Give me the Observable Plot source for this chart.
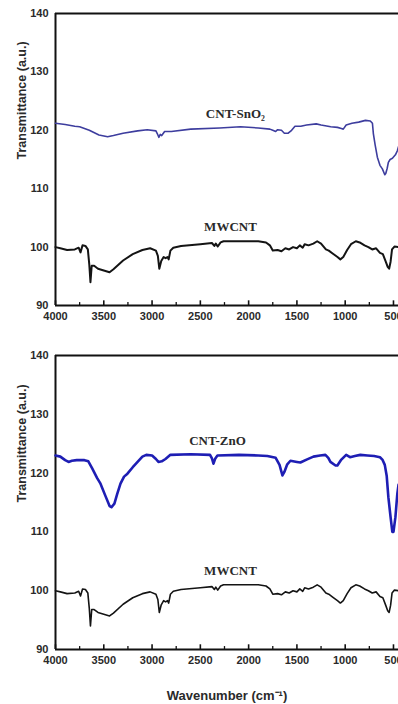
<!DOCTYPE html>
<html>
<head>
<meta charset="utf-8">
<script src="https://cdn.jsdelivr.net/npm/d3@7"></script>
<script src="https://cdn.jsdelivr.net/npm/@observablehq/plot@0.6"></script>
<style>
  html, body { margin: 0; padding: 0; background: #fff; overflow: hidden; }
  #chart svg { display: block; }
</style>
</head>
<body>
<div id="chart"></div>
<script>
// ---- data ----
const mwcntWn = [4000,3950,3880,3800,3760,3741,3720,3690,3665,3650,3638,3625,3600,3560,3500,3440,3400,3300,3200,3100,3020,2960,2940,2925,2905,2880,2860,2840,2828,2810,2780,2700,2500,2380,2355,2340,2320,2290,2260,2100,1900,1820,1780,1750,1700,1660,1620,1580,1540,1500,1470,1440,1420,1380,1330,1290,1250,1200,1170,1130,1080,1050,1020,980,940,890,850,800,760,720,680,640,610,580,560,545,530,515,490,450];
const mwcntT  = [100.0,99.8,99.5,99.6,99.9,99.1,100.3,100.2,99.6,97.0,94.0,96.8,96.8,96.3,96.0,95.7,96.2,97.7,98.8,99.5,99.8,99.4,98.5,96.3,97.6,98.3,98.1,98.3,97.9,99.4,99.9,100.2,100.5,100.7,100.2,100.6,100.1,100.8,101.0,101.0,101.0,100.8,100.3,99.4,99.5,99.3,99.8,99.6,100.0,99.8,100.3,99.9,100.5,100.3,100.6,101.0,100.6,99.6,99.4,98.9,98.3,97.9,98.3,99.5,100.5,101.0,100.8,100.3,100.0,99.6,99.8,99.0,98.8,97.5,96.6,96.3,97.5,99.6,100.1,100.0];

const sno2Wn = [4000,3900,3800,3750,3650,3550,3460,3400,3300,3150,3050,2960,2945,2930,2915,2900,2870,2800,2600,2300,2085,1900,1780,1750,1720,1700,1660,1630,1590,1555,1520,1460,1400,1300,1250,1150,1080,1040,1020,990,930,860,790,740,718,708,690,667,640,615,590,580,565,553,535,511,480,460,448];
const sno2T  = [121.2,121.0,120.7,120.6,120.0,119.2,118.9,119.1,119.5,119.9,120.1,119.9,119.4,118.8,119.3,119.1,119.8,119.8,120.2,120.4,120.6,120.4,120.2,120.0,119.8,120.1,120.0,119.5,119.5,120.0,120.7,120.7,120.9,121.1,120.9,120.6,120.5,120.3,120.2,120.9,121.2,121.4,121.7,121.6,121.2,119.4,117.5,115.4,114.0,113.4,112.4,112.6,113.5,114.5,115.0,115.2,115.8,116.5,117.2];

const znoWn = [4000,3950,3900,3865,3830,3780,3700,3660,3620,3570,3534,3480,3440,3420,3390,3360,3327,3290,3255,3200,3150,3100,3060,3000,2960,2934,2900,2861,2810,2600,2400,2380,2364,2345,2323,2100,1900,1806,1720,1680,1650,1630,1600,1567,1500,1464,1400,1329,1260,1205,1175,1153,1100,1081,1040,990,950,900,843,770,700,640,615,590,570,553,530,512,500,480,460,448];
const znoT  = [123.0,122.8,122.2,121.9,122.1,122.2,122.2,122.0,120.8,119.2,118.2,116.0,114.4,114.2,114.8,116.5,118.2,119.4,119.9,121.0,121.9,122.8,123.1,123.0,122.4,121.9,122.0,122.4,123.1,123.2,123.1,122.5,121.6,122.5,123.0,123.1,123.0,122.9,122.6,121.4,119.6,120.2,121.5,122.1,121.9,121.8,122.3,122.8,123.0,123.1,122.6,121.9,121.3,121.3,122.3,123.1,122.7,122.9,123.1,123.0,122.9,122.7,122.3,121.4,119.5,115.9,112.5,110.0,110.0,112.5,116.5,118.0];

const xMajor = [4000,3500,3000,2500,2000,1500,1000,500];
const xMinor = [3750,3250,2750,2250,1750,1250,750];
const yTicks = [90,100,110,120,130,140];
const xDomain = [4000, 448];
const yDomain = [90, 140];

const yTitle = "Transmittance (a.u.)";
const xTitle = "Wavenumber (cm\u207B\u00B9)";

const panels = [
  {name: "CNT-SnO\u2082", wn: sno2Wn, t: sno2T, color: "#3d3d9e", width: 1.6,
   lab: {x: 2137, y: 122.9}, mw: {x: 2188, y: 103.4, w: 2.0},
   height: 330, mt: 13, mb: 25, xlabel: false},
  {name: "CNT-ZnO", wn: znoWn, t: znoT, color: "#1e1eb4", width: 2.6,
   lab: {x: 2323, y: 125.5}, mw: {x: 2188, y: 103.4, w: 1.6},
   height: 374, mt: 25, mb: 55, xlabel: true}
];

const toRows = (xs, ys) => xs.map((x, i) => ({x, y: ys[i]}));
const chart = document.getElementById("chart");

for (const p of panels) {
  const marks = [
    Plot.axisY({ticks: yTicks, tickSize: 0, tickPadding: 7, label: null,
      fontSize: 11, fontWeight: "bold", fill: "#2a2a2a"}),
    Plot.axisX({ticks: xMajor, tickSize: 0, tickPadding: 7, label: null,
      tickFormat: d => String(d), fontSize: 11, fontWeight: "bold", fill: "#2a2a2a"}),
    Plot.ruleX(xMajor, {y1: 90, y2: 90.8, stroke: "#111", strokeWidth: 1.6}),
    Plot.ruleX(xMinor, {y1: 90, y2: 90.5, stroke: "#111", strokeWidth: 1.3}),
    Plot.ruleY([90, 140], {stroke: "#111", strokeWidth: 2}),
    Plot.ruleX([4000], {stroke: "#111", strokeWidth: 2}),
    Plot.line(toRows(mwcntWn, mwcntT), {x: "x", y: "y", stroke: "#141414", strokeWidth: p.mw.w, curve: "linear"}),
    Plot.line(toRows(p.wn, p.t), {x: "x", y: "y", stroke: p.color, strokeWidth: p.width, curve: "linear"}),
    Plot.text([p.name], {x: p.lab.x, y: p.lab.y, text: d => d, fontFamily: "Liberation Serif, Times New Roman, serif",
      fontWeight: "bold", fontSize: 13, fill: "#2a2a2a", lineAnchor: "middle"}),
    Plot.text(["MWCNT"], {x: p.mw.x, y: p.mw.y, text: d => d, fontFamily: "Liberation Serif, Times New Roman, serif",
      fontWeight: "bold", fontSize: 13, fill: "#2a2a2a", lineAnchor: "middle"}),
    Plot.text([yTitle], {frameAnchor: "left", dx: -34, rotate: -90, text: d => d,
      fontSize: 12.5, fontWeight: "bold", fill: "#2a2a2a", lineAnchor: "middle", letterSpacing: "1px"})
  ];
  if (p.xlabel) {
    marks.push(Plot.text([xTitle], {frameAnchor: "bottom", dy: 46, text: d => d,
      fontSize: 13, fontWeight: "bold", fill: "#2a2a2a", lineAnchor: "middle"}));
  }
  const svg = Plot.plot({
    width: 398,
    height: p.height,
    marginTop: p.mt,
    marginBottom: p.mb,
    marginLeft: 55,
    marginRight: 0,
    style: {fontFamily: "Liberation Sans, Arial, sans-serif", background: "#fff", overflow: "hidden"},
    x: {domain: xDomain},
    y: {domain: yDomain},
    marks
  });
  chart.appendChild(svg);
}
</script>
</body>
</html>
